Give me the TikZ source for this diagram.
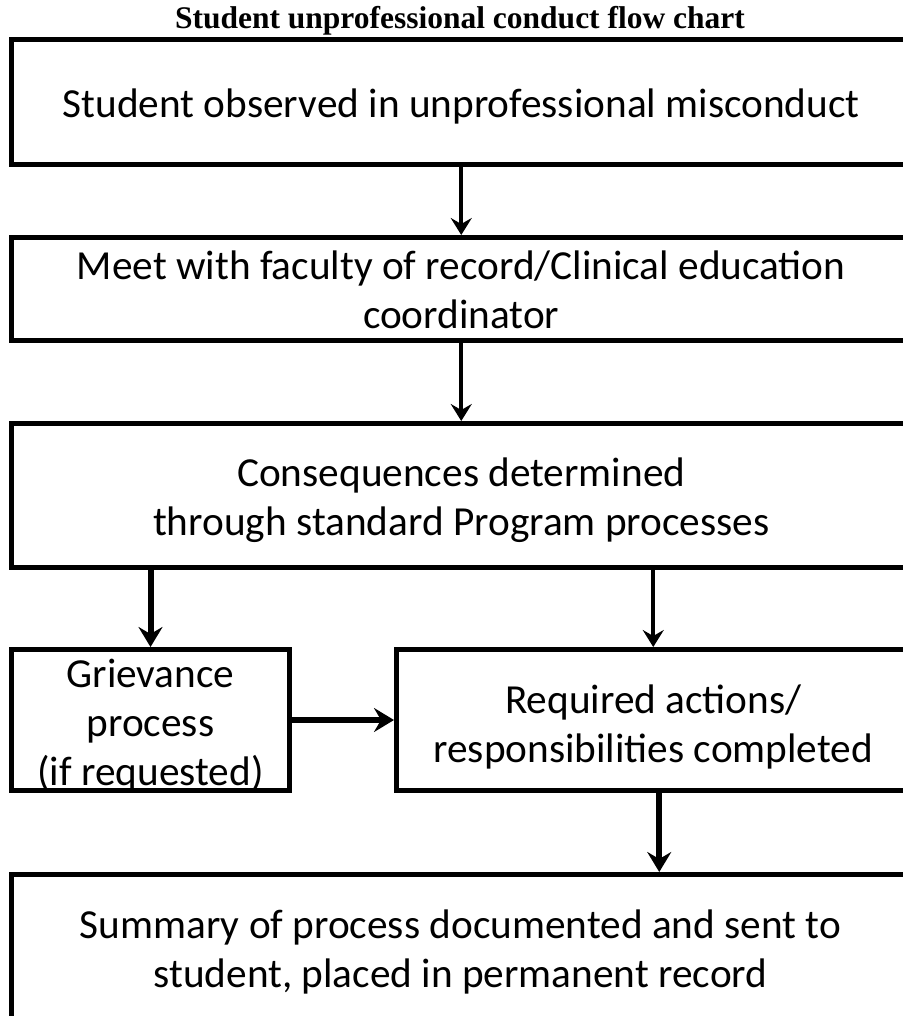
\documentclass[tikz,border=0pt]{standalone}
\usepackage{fontspec}
\setmainfont{Carlito}
\newfontfamily\titlefont{Liberation Serif}
\usetikzlibrary{arrows.meta, positioning}

\tikzset{
  flowbox/.style={draw, line width=5pt, inner sep=0pt, align=center, text depth=0pt,
    font=\fontsize{41.3}{49}\selectfont},
  flowarrow/.style={-{Stealth[length=17pt,width=21pt,inset=6pt]}, line width=4pt},
  heavyarrow/.style={-{Stealth[length=20pt,width=24pt,inset=7pt]}, line width=6pt}
}

\begin{document}
\begin{tikzpicture}[x=1pt,y=-1pt]
    \useasboundingbox (0,0) rectangle (902,1016);
    \node[anchor=base, font=\titlefont\fontsize{31.5}{36}\selectfont\bfseries] (title) at (460,29) {Student unprofessional conduct flow chart};
    \node[flowbox, minimum width=899.5pt, minimum height=125pt, text height=32pt] (observed) at (461.25,102) {Student observed in unprofessional misconduct};
    \node[flowbox, minimum width=899.5pt, minimum height=103pt, text height=78pt, below=68pt of observed] (meet) {Meet with faculty of record/Clinical education\\coordinator};
    \node[flowbox, minimum width=899.5pt, minimum height=144pt, text height=79pt, below=78pt of meet] (conseq) {Consequences determined\\through standard Program processes};
    \node[flowbox, minimum width=278pt, minimum height=141pt, text height=130pt, below=77pt of conseq.south west, anchor=north west] (griev) {Grievance\\process\\(if requested)};
    \node[flowbox, minimum width=513.5pt, minimum height=141pt, text height=84pt, right=102pt of griev] (req) {Required actions/\\responsibilities completed};
    \node[flowbox, minimum width=899pt, minimum height=151pt, text height=74pt, below=79pt of req.south east, anchor=north east] (summ) {Summary of process documented and sent to\\student, placed in permanent record};
    \draw[flowarrow] (observed) -- (meet);
    \draw[flowarrow] (meet) -- (conseq);
    \draw[heavyarrow] (conseq.south -| griev.north) -- (griev.north);
    \draw[flowarrow] (conseq.south -| req.north) -- (req.north);
    \draw[heavyarrow] (griev) -- (req);
    \draw[heavyarrow] ([xshift=6pt]req.south) -- ([xshift=6pt]req.south |- summ.north);
\end{tikzpicture}
\end{document}
